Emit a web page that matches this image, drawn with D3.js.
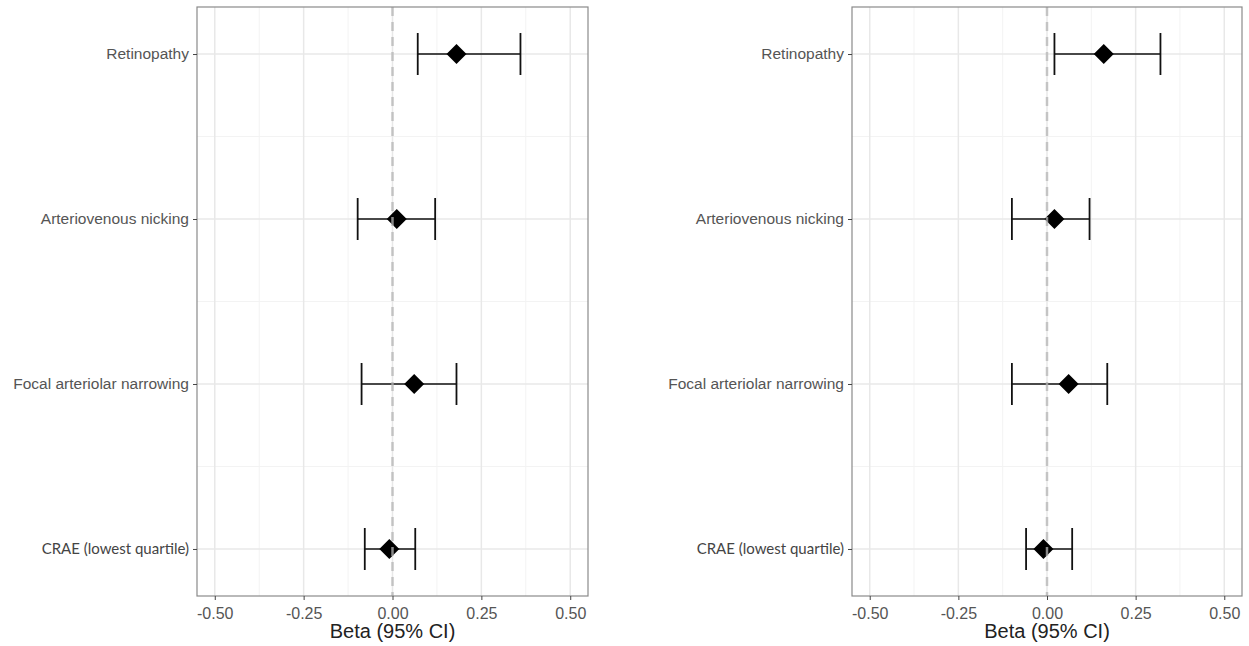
<!DOCTYPE html>
<html>
<head>
<meta charset="utf-8">
<script src="https://cdn.jsdelivr.net/npm/d3@7"></script>
<style>
  body { margin: 0; background: #fff; }
  svg { display: block; font-family: "Liberation Sans", Arial, sans-serif; }
</style>
</head>
<body>
<div id="chart"></div>
<script>
// ========== DATA ==========
const categories = ["Retinopathy", "Arteriovenous nicking", "Focal arteriolar narrowing", "CRAE (lowest quartile)"];

const leftEst  = [0.18, 0.012, 0.061, -0.009];
const leftLow  = [0.071, -0.098, -0.087, -0.078];
const leftHigh = [0.36, 0.12, 0.18, 0.064];

const rightEst  = [0.16, 0.021, 0.061, -0.01];
const rightLow  = [0.021, -0.099, -0.099, -0.059];
const rightHigh = [0.32, 0.12, 0.17, 0.071];

const xTicks = [-0.5, -0.25, 0, 0.25, 0.5];
const xTickLabels = ["-0.50", "-0.25", "0.00", "0.25", "0.50"];
const xMinor = [-0.375, -0.125, 0.125, 0.375];
const xTitle = "Beta (95% CI)";

const W = 1249, H = 646;
const svg = d3.select("#chart").append("svg").attr("width", W).attr("height", H);

function drawPanel(left, right, est, low, high) {
  const top = 7, bottom = 596;
  const x = d3.scaleLinear().domain([-0.55, 0.55]).range([left, right]);
  const y = d3.scalePoint().domain(categories).range([top, bottom]).padding(0.285);
  const g = svg.append("g");

  // minor grid
  const yMid = categories.slice(1).map((c, i) => (y(categories[i]) + y(c)) / 2);
  xMinor.forEach(v => {
    g.append("line").attr("x1", x(v)).attr("x2", x(v)).attr("y1", top).attr("y2", bottom)
      .attr("stroke", "#f3f3f3").attr("stroke-width", 1);
  });
  yMid.forEach(v => {
    g.append("line").attr("x1", left).attr("x2", right).attr("y1", v).attr("y2", v)
      .attr("stroke", "#f3f3f3").attr("stroke-width", 1);
  });
  // major grid
  xTicks.forEach(v => {
    g.append("line").attr("x1", x(v)).attr("x2", x(v)).attr("y1", top).attr("y2", bottom)
      .attr("stroke", "#e8e8e8").attr("stroke-width", 1.5);
  });
  categories.forEach(c => {
    g.append("line").attr("x1", left).attr("x2", right).attr("y1", y(c)).attr("y2", y(c))
      .attr("stroke", "#e8e8e8").attr("stroke-width", 1.5);
  });

  // error bars
  const cap = 21;
  categories.forEach((c, i) => {
    const yy = y(c);
    g.append("line").attr("x1", x(low[i])).attr("x2", x(high[i])).attr("y1", yy).attr("y2", yy)
      .attr("stroke", "#111").attr("stroke-width", 1.6);
    [low[i], high[i]].forEach(v => {
      g.append("line").attr("x1", x(v)).attr("x2", x(v)).attr("y1", yy - cap).attr("y2", yy + cap)
        .attr("stroke", "#111").attr("stroke-width", 1.8);
    });
  });

  // diamonds
  const s = 10;
  g.selectAll("path.pt").data(est).join("path")
    .attr("class", "pt")
    .attr("d", (d, i) => {
      const cx = x(d), cy = y(categories[i]);
      return `M${cx},${cy - s}L${cx + s},${cy}L${cx},${cy + s}L${cx - s},${cy}Z`;
    })
    .attr("fill", "#000");

  // reference line (drawn over points)
  g.append("line").attr("x1", x(0)).attr("x2", x(0)).attr("y1", top).attr("y2", bottom)
    .attr("stroke", "#b5b5b5").attr("stroke-opacity", 0.75)
    .attr("stroke-width", 2.5).attr("stroke-dasharray", "9,6");

  // border
  g.append("rect").attr("x", left).attr("y", top).attr("width", right - left).attr("height", bottom - top)
    .attr("fill", "none").attr("stroke", "#8a8a8a").attr("stroke-width", 1.2);

  // x axis
  const xa = g.append("g").attr("transform", `translate(0,${bottom})`)
    .call(d3.axisBottom(x).tickValues(xTicks).tickSize(4).tickPadding(8)
      .tickFormat((d, i) => xTickLabels[i]));
  xa.select(".domain").remove();
  xa.attr("font-size", null).attr("font-family", null);
  xa.selectAll("line").attr("stroke", "#444");
  xa.selectAll("text").attr("fill", "#555").style("font-size", "16px")
    .style("font-family", "'Liberation Sans', Arial, sans-serif");

  // y axis
  const ya = g.append("g").attr("transform", `translate(${left},0)`)
    .call(d3.axisLeft(y).tickSize(4).tickPadding(4));
  ya.select(".domain").remove();
  ya.attr("font-size", null).attr("font-family", null);
  ya.selectAll("line").attr("stroke", "#444");
  ya.selectAll("text").attr("fill", "#555").style("font-size", "15.5px")
    .style("font-family", "'Liberation Sans', Arial, sans-serif");
  ya.selectAll("text").filter(d => d === "CRAE (lowest quartile)")
    .style("font-family", "Lato, 'Open Sans', sans-serif").style("font-size", "15px").attr("fill", "#444");

  // x title
  g.append("text").attr("x", (left + right) / 2).attr("y", 638)
    .attr("text-anchor", "middle").style("font-size", "20px").attr("fill", "#222")
    .text(xTitle);
}

drawPanel(197, 588, leftEst, leftLow, leftHigh);
drawPanel(852, 1242, rightEst, rightLow, rightHigh);
</script>
</body>
</html>
